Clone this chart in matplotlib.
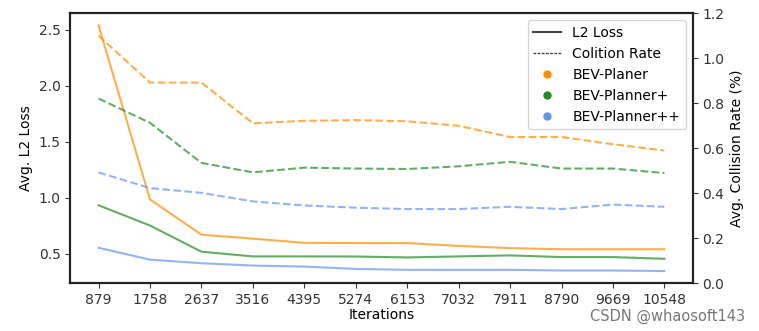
import matplotlib.pyplot as plt
from matplotlib.lines import Line2D

# iterations on the x axis
iterations = [879, 1758, 2637, 3516, 4395, 5274, 6153, 7032, 7911, 8790, 9669, 10548]

# Avg. L2 loss (left axis)
l2_planer = [2.54, 0.985, 0.67, 0.635, 0.597, 0.595, 0.595, 0.57, 0.55, 0.54, 0.54, 0.54]
l2_plus = [0.933, 0.752, 0.518, 0.476, 0.476, 0.475, 0.467, 0.476, 0.485, 0.47, 0.47, 0.455]
l2_plusplus = [0.553, 0.447, 0.415, 0.394, 0.385, 0.364, 0.356, 0.356, 0.356, 0.35, 0.35, 0.345]

# Avg. collision rate (right axis, %)
col_planer = [1.10, 0.892, 0.892, 0.711, 0.722, 0.725, 0.72, 0.70, 0.65, 0.65, 0.618, 0.59]
col_plus = [0.821, 0.713, 0.535, 0.493, 0.514, 0.51, 0.508, 0.52, 0.54, 0.51, 0.51, 0.49]
col_plusplus = [0.493, 0.423, 0.402, 0.364, 0.346, 0.336, 0.33, 0.33, 0.34, 0.33, 0.35, 0.34]

names = ['BEV-Planer', 'BEV-Planner+', 'BEV-Planner++']
colors = ['darkorange', 'forestgreen', 'cornflowerblue']

fig = plt.figure(figsize=(7.59, 3.31), dpi=100)
ax = fig.add_axes([0.0926, 0.144, 0.82, 0.816])
ax2 = ax.twinx()

for vals, c in zip([l2_planer, l2_plus, l2_plusplus], colors):
    ax.plot(iterations, vals, color=c, lw=1.5, alpha=0.7)
for vals, c in zip([col_planer, col_plus, col_plusplus], colors):
    ax2.plot(iterations, vals, color=c, lw=1.5, alpha=0.7, linestyle='--')

ax.set_xticks(iterations)
ax.set_xticklabels([str(i) for i in iterations])
ax.set_xlabel('Iterations', labelpad=1)
ax.set_ylabel('Avg. L2 Loss')
ax.set_yticks([0.5, 1.0, 1.5, 2.0, 2.5])
ax2.set_ylim(0, 1.2)
ax2.set_yticks([0.0, 0.2, 0.4, 0.6, 0.8, 1.0, 1.2])
ax2.set_ylabel('Avg. Collision Rate (%)')

for a in (ax, ax2):
    for s in a.spines.values():
        s.set_linewidth(1.5)
        s.set_color('#222222')
    a.tick_params(colors='#333333', labelcolor='#333333')

handles = [Line2D([], [], color='#444444', lw=1.5, linestyle='-'),
           Line2D([], [], color='#444444', lw=1.0, linestyle=(0, (2, 1)))]
handles += [Line2D([], [], color=c, marker='o', linestyle='', markersize=5) for c in colors]
labels = ['L2 Loss', 'Colition Rate'] + names
ax2.legend(handles, labels, loc='upper right', fontsize=10, framealpha=0.8)

fig.text(0.982, 0.045, 'CSDN @whaosoft143', ha='right', va='center',
         fontsize=10.5, color='#777777')

fig.savefig('out.png', dpi=100)
